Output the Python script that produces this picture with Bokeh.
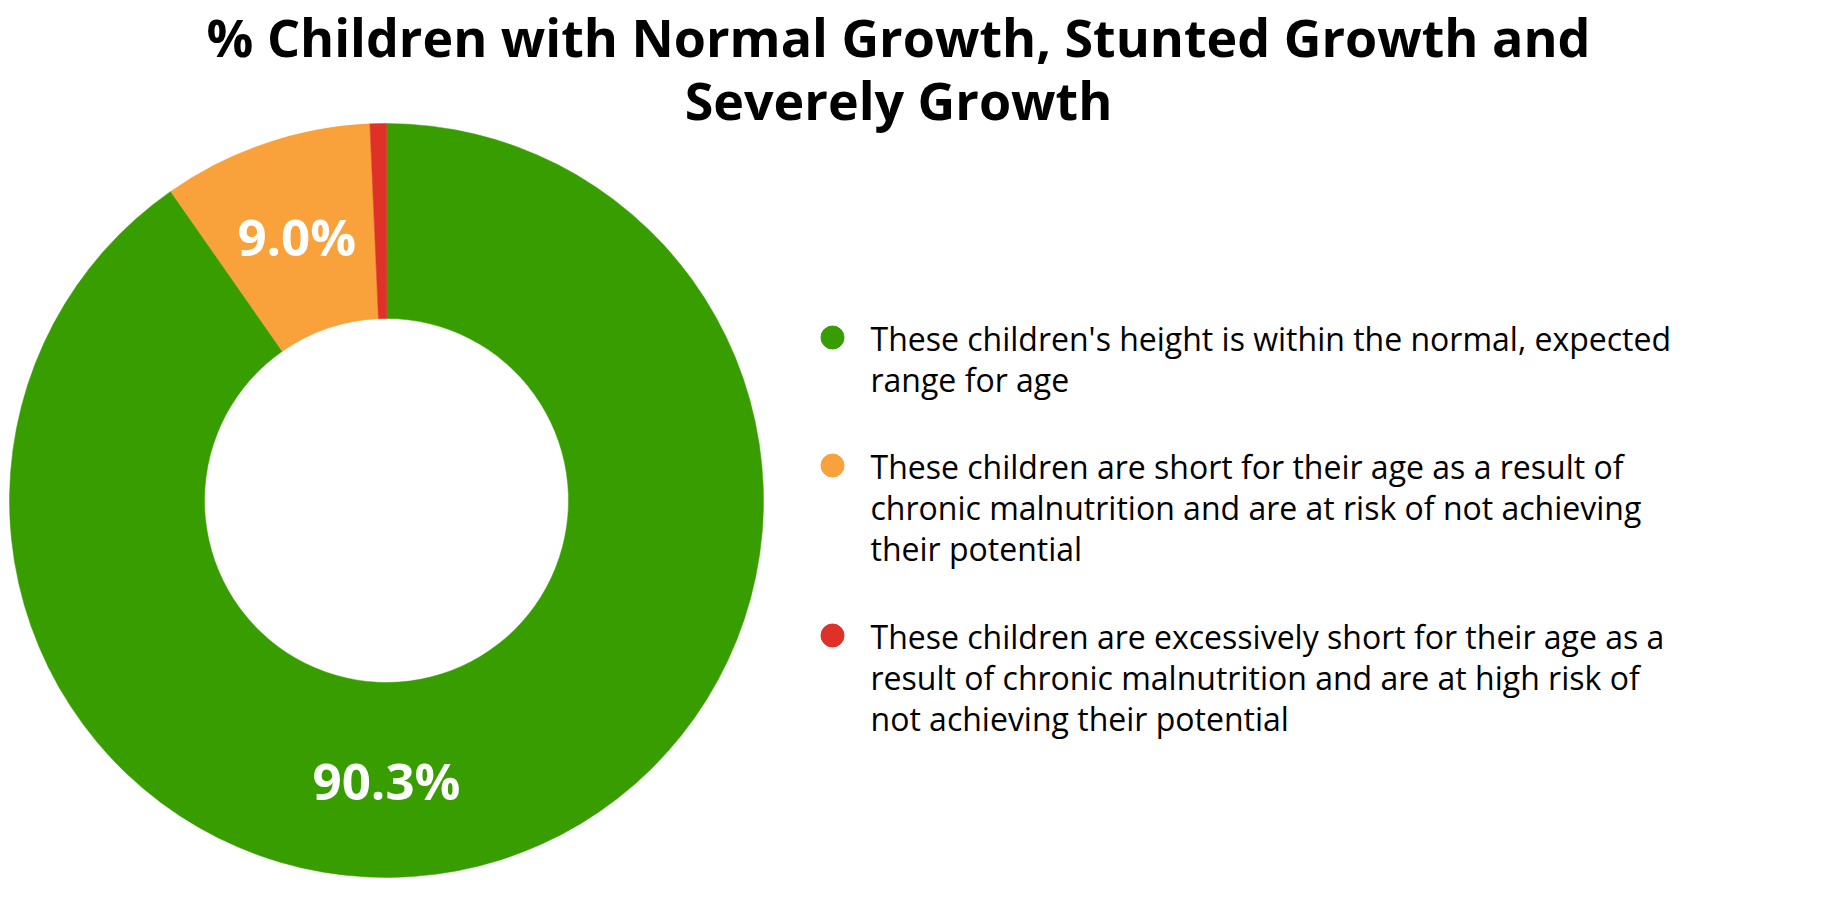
import numpy as np
from bokeh.plotting import figure
from bokeh.models import ColumnDataSource, Range1d
from bokeh.core.properties import value
from bokeh.embed import file_html
from bokeh.resources import INLINE

# Chart data
title_lines = ["% Children with Normal Growth, Stunted Growth and", "Severely Growth"]
shares = [90.3, 9.0, 0.7]
pct_labels = ["90.3%", "9.0%", ""]
colors = ["#389e00", "#f9a13a", "#df3128"]
descriptions = [
    "These children's height is within the normal, expected\nrange for age",
    "These children are short for their age as a result of\nchronic malnutrition and are at risk of not achieving\ntheir potential",
    "These children are excessively short for their age as a\nresult of chronic malnutrition and are at high risk of\nnot achieving their potential",
]

FONT = "Open Sans"
W, H = 1820, 904
CX, CY = 386, 404          # donut centre, in pixels (y from bottom)
R_OUT, R_IN = 377, 182
LINE_H = 42                # legend line height in px
GAP = 44                   # space between legend entries

frac = np.array(shares) / sum(shares)
cum = np.concatenate([[0], np.cumsum(frac)])
start = np.pi / 2 - 2 * np.pi * cum[:-1]
end = np.pi / 2 - 2 * np.pi * cum[1:]
mid = (start + end) / 2
mid = np.where(frac > 0.5, -np.pi / 2, mid)  # the big slice is labelled at the bottom
r_lab = (R_OUT + R_IN) / 2

wedges = ColumnDataSource(data={
    "start": start, "end": end, "color": colors,
    "lx": CX + r_lab * np.cos(mid), "ly": CY + r_lab * np.sin(mid),
    "label": pct_labels,
})

p = figure(width=W, height=H, x_range=Range1d(0, W), y_range=Range1d(0, H),
           x_axis_type=None, y_axis_type=None, toolbar_location=None,
           output_backend="svg", min_border=0)
p.grid.visible = False
p.outline_line_color = None

p.annular_wedge(x=CX, y=CY, inner_radius=R_IN, outer_radius=R_OUT,
                start_angle="start", end_angle="end", direction="clock",
                fill_color="color", line_color="color", line_width=0.5,
                source=wedges)
p.text(x="lx", y="ly", text="label", source=wedges,
       text_font=value(FONT), text_font_style="bold", text_font_size="51px",
       text_color="white", text_align="center", text_baseline="middle")

# title
p.text(x=[898, 898], y=[868, 805], text=title_lines,
       text_font=value(FONT), text_font_style="bold", text_font_size="52px",
       text_color="black", text_align="center", text_baseline="middle")

# legend: dots + wrapped descriptions
n_lines = [d.count("\n") + 1 for d in descriptions]
ly = [567]
for n in n_lines[:-1]:
    ly.append(ly[-1] - n * LINE_H - GAP)
legend = ColumnDataSource(data={
    "x": [832] * 3, "tx": [870] * 3, "y": ly, "ty": [v + LINE_H / 2 for v in ly],
    "color": colors, "text": descriptions,
})
p.scatter(x="x", y="y", size=23, color="color", source=legend)
p.text(x="tx", y="ty", text="text", source=legend,
       text_font=value(FONT), text_font_size="32px", text_line_height=0.96,
       text_color="black", text_align="left", text_baseline="top")

open("out.html", "w").write(file_html(p, INLINE))
